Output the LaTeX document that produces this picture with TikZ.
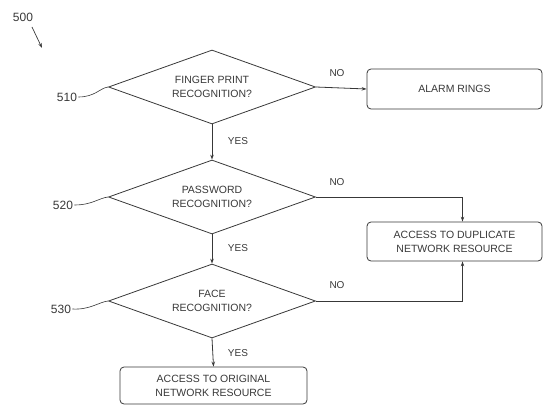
\documentclass[tikz,border=0pt]{standalone}
\usepackage{fontspec}
\setmainfont{Liberation Sans}
\usetikzlibrary{shapes.geometric,arrows.meta}
\definecolor{ink}{gray}{0.22}
\begin{document}
\begin{tikzpicture}[x=1pt,y=-1pt,
  line width=0.8pt, draw=ink, text=ink,
  decision/.style={draw, shape=diamond, shape aspect=2.8, inner sep=0pt,
    minimum width=207pt, minimum height=74pt, align=center,
    font=\fontsize{10.5}{14}\selectfont},
  action/.style={draw, rounded corners=4pt, align=center, inner sep=0pt,
    font=\fontsize{10.5}{14}\selectfont},
  ref/.style={font=\fontsize{12}{14}\selectfont, inner sep=1pt},
  tag/.style={font=\fontsize{10}{12}\selectfont, inner sep=1pt},
  flow/.style={-{Stealth[length=5pt,width=3.5pt]}},
  leader/.style={line width=0.6pt}]
\useasboundingbox (0,0) rectangle (545,406);

% decision diamonds
\node[decision] (d1) at (212,87) {FINGER PRINT\\RECOGNITION?};
\node[decision] (d2) at (212,197) {PASSWORD\\RECOGNITION?};
\node[decision] (d3) at (212,301) {FACE\\RECOGNITION?};

% outcome boxes
\node[action, minimum width=175pt, minimum height=40pt] (alarm) at (454.5,89) {ALARM RINGS};
\node[action, minimum width=175pt, minimum height=39pt] (dup) at (454.5,241.5) {ACCESS TO DUPLICATE\\NETWORK RESOURCE};
\node[action, minimum width=187pt, minimum height=37pt] (orig) at (213.5,385.5) {ACCESS TO ORIGINAL\\NETWORK RESOURCE};

% flow connectors
\draw[flow] (d1.east) -- (alarm.west);
\draw[flow] (d1.south) -- (d2.north);
\draw[flow] (d2.south) -- (d3.north);
\draw[flow] (d3.south) -- (orig.north);
\draw[flow] (d2.east) -| ([xshift=8pt]dup.north);
\draw[flow] (d3.east) -| ([xshift=8pt]dup.south);

% branch labels
\node[tag] (no1) at (337,73) {NO};
\node[tag] (no2) at (337,182) {NO};
\node[tag] (no3) at (337,285) {NO};
\node[tag] (yes1) at (238,141) {YES};
\node[tag] (yes2) at (238,248) {YES};
\node[tag] (yes3) at (238,353) {YES};

% reference numerals
\node[ref] (r500) at (23,17) {500};
\coordinate (r500tip) at (42,48);
\draw[flow, line width=0.7pt] (32,27) -- (r500tip);

\node[ref] (r510) at (67,97) {510};
\draw[leader] (r510.east) .. controls (95,97) and (100,88) .. (d1.west);
\node[ref] (r520) at (63,205) {520};
\draw[leader] (r520.east) .. controls (92,205) and (99,198) .. (d2.west);
\node[ref] (r530) at (61,309) {530};
\draw[leader] (r530.east) .. controls (90,310) and (99,302) .. (d3.west);
\end{tikzpicture}
\end{document}
